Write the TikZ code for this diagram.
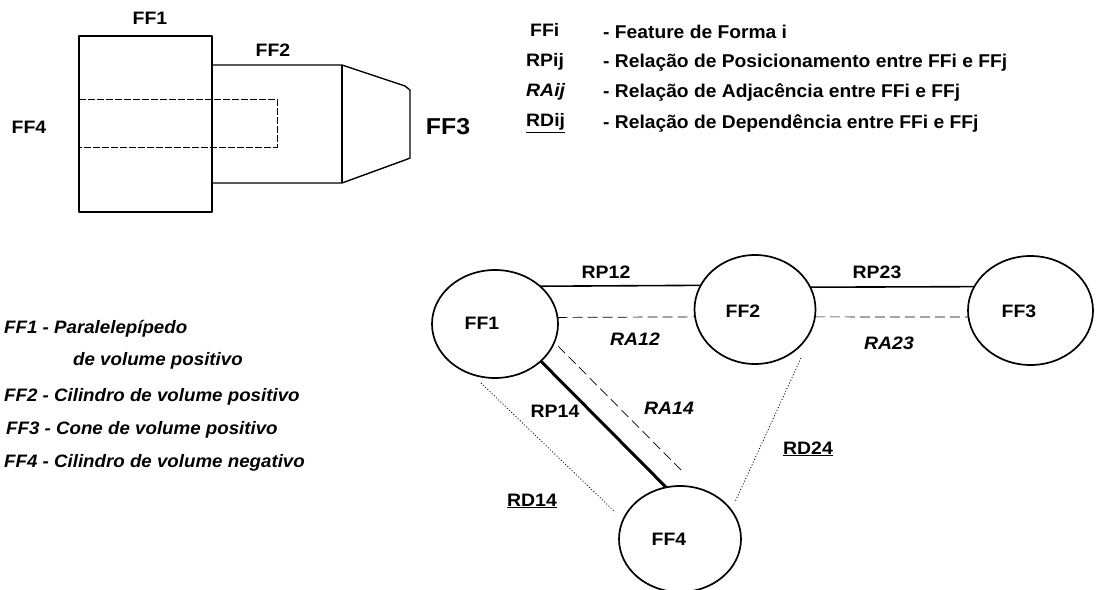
\documentclass[tikz,border=0pt]{standalone}
\usepackage{fontspec}
\usetikzlibrary{shapes.geometric}
\setmainfont{Liberation Sans}
\newfontfamily\labfont{Liberation Sans}[FakeStretch=1.08]
\newfontfamily\legfont{Liberation Sans}[FakeStretch=1.04]
\newfontfamily\kfont{Liberation Sans}[FakeStretch=1.04]
\newcommand{\fsz}[1]{\fontsize{#1}{#1}\selectfont}
\tikzset{
  x=1pt,y=-1pt,
  lab/.style={inner sep=0pt,font=\labfont\fsz{18}\bfseries},
  ilab/.style={inner sep=0pt,font=\labfont\fsz{18}\bfseries\itshape},
  leg/.style={inner sep=0pt,anchor=west,font=\legfont\fsz{18.5}\bfseries},
  ileg/.style={inner sep=0pt,anchor=west,font=\kfont\fsz{18}\bfseries\itshape},
  ffcircle/.style 2 args={ellipse,draw,line width=1.7pt,inner sep=0pt,outer sep=0pt,minimum width=#1,minimum height=#2},
  part/.style={line width=1.4pt,line join=round},
  hidden/.style={line width=1pt,dash pattern=on 7pt off 2pt},
  rp/.style={line width=1.6pt},
  rpthick/.style={line width=3pt},
  ra/.style={line width=0.7pt,dash pattern=on 10pt off 5pt},
  rd/.style={line width=0.8pt,dash pattern=on 1pt off 2pt},
}
\begin{document}
\begin{tikzpicture}
\useasboundingbox (0,0) rectangle (1097,589);
% mechanical part
\draw[part] (79,36) rectangle (212,212);
\draw[part] (212,65) -- (342,65) -- (405,86) -- (410,90) -- (410,158) -- (405,160) -- (342,183) -- (212,183);
\draw[part] (342,65) -- (342,183);
\draw[hidden] (79,99) -- (277,99) -- (277,147) -- (79,147);
\node[lab] (tff1) at (150,18) {FF1};
\node[lab] (tff2) at (273,50) {FF2};
\node[lab] (tff4) at (29,127) {FF4};
\node[inner sep=0pt,font=\labfont\fsz{23}\bfseries] (tff3) at (448,127) {FF3};
% legend
\node[lab,anchor=west] (l1) at (530,30) {FFi};
\node[lab,anchor=west] (l2) at (526,62) {RPij};
\node[ilab,anchor=west] (l3) at (526,92) {RAij};
\node[lab,anchor=west] (l4) at (526,123) {\underline{RDij}};
\node[leg] (d1) at (603,32) {- Feature de Forma i};
\node[leg] (d2) at (603,63) {- Relação de Posicionamento entre FFi e FFj};
\node[leg] (d3) at (603,93) {- Relação de Adjacência entre FFi e FFj};
\node[leg] (d4) at (603,124) {- Relação de Dependência entre FFi e FFj};
% left legend
\node[ileg] (k1) at (4,329) {FF1 - Paralelepípedo};
\node[ileg] (k1b) at (73,361) {de volume positivo};
\node[ileg] (k2) at (4,397) {FF2 - Cilindro de volume positivo};
\node[ileg] (k3) at (6,430) {FF3 - Cone de volume positivo};
\node[ileg] (k4) at (4,463) {FF4 - Cilindro de volume negativo};
% graph
\node[ffcircle={126pt}{108pt}] (f1) at (495,324) {};
\node[ffcircle={121pt}{109pt}] (f2) at (755,309.5) {};
\node[ffcircle={125pt}{109pt}] (f3) at (1030.5,310.5) {};
\node[ffcircle={122pt}{106pt}] (f4) at (680,539) {};
\node[lab] (n1) at (482,323) {FF1};
\node[lab] (n2) at (743,311) {FF2};
\node[lab] (n3) at (1019,311) {FF3};
\node[lab] (n4) at (669,539) {FF4};
\coordinate (a14s) at (558,346);
\coordinate (a14e) at (684,473);
\coordinate (d14s) at (481,383);
\coordinate (d14e) at (615,512);
\coordinate (d24s) at (801,358);
\coordinate (d24e) at (735,502);
\draw[rp] (f1.40.8) -- (f2.156.7);
\draw[rp] (f2.22.5) -- (f3.157);
\draw[ra] (f1.6.1) -- (f2.187.4);
\draw[ra] (f2.-7.8) -- (f3.186.6);
\draw[rpthick] (f1.-39.6) -- (f4.105.8);
\draw[ra] (a14s) -- (a14e);
\draw[rd] (d14s) -- (d14e);
\draw[rd] (d24s) -- (d24e);
\node[lab] (rp12) at (606,272) {RP12};
\node[lab] (rp23) at (877,272) {RP23};
\node[ilab] (ra12) at (635,339) {RA12};
\node[ilab] (ra23) at (889,343) {RA23};
\node[lab] (rp14) at (555,411) {RP14};
\node[ilab] (ra14) at (669,408) {RA14};
\node[lab] (rd24) at (808,449) {\underline{RD24}};
\node[lab] (rd14) at (532,501) {\underline{RD14}};
\end{tikzpicture}
\end{document}
